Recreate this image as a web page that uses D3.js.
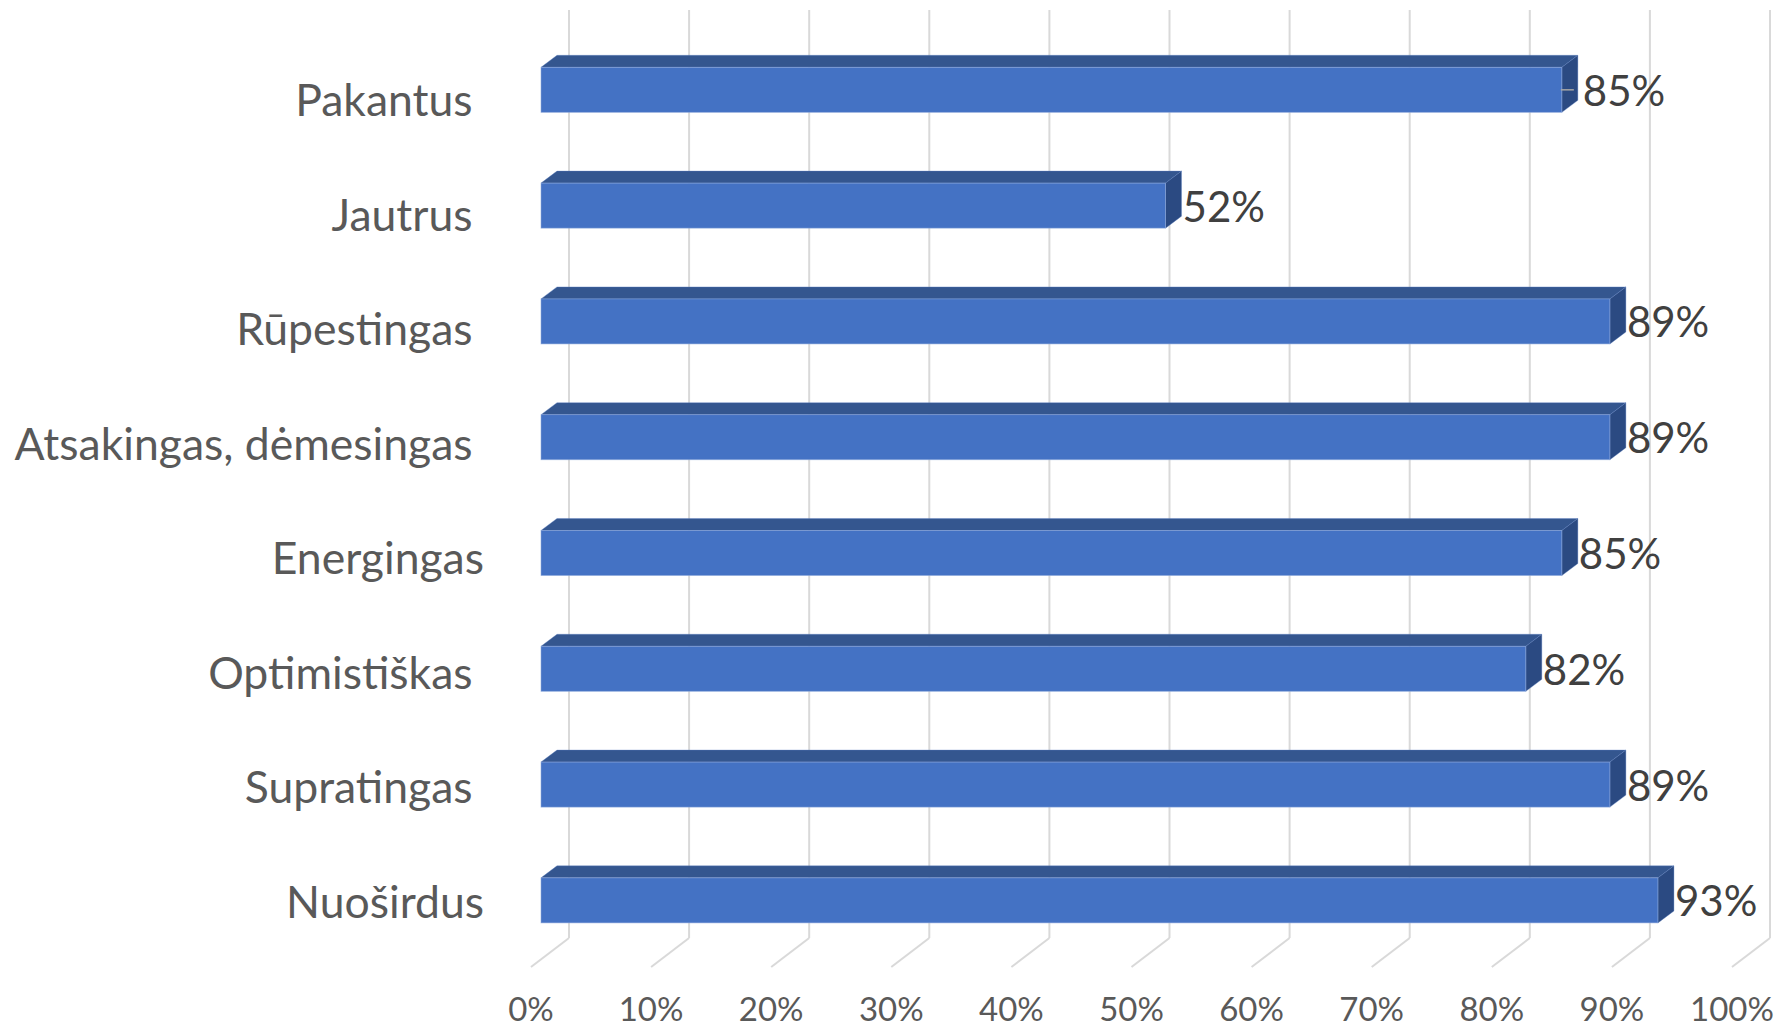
<!DOCTYPE html>
<html>
<head>
<meta charset="utf-8">
<script src="https://cdn.jsdelivr.net/npm/d3@7"></script>
<style>
  html, body { margin: 0; padding: 0; background: #ffffff; }
  svg { display: block; }
  text { font-family: Lato, "Open Sans", "Noto Sans", sans-serif; white-space: pre; }
</style>
</head>
<body>
<svg id="chart" width="1775" height="1029"></svg>
<script>
// ---- data ----
const categories = ["Pakantus ", "Jautrus ", "Rūpestingas ", "Atsakingas, dėmesingas ", "Energingas", "Optimistiškas ", "Supratingas ", "Nuoširdus"];
const values = [85, 52, 89, 89, 85, 82, 89, 93];
const tickValues = [0, 10, 20, 30, 40, 50, 60, 70, 80, 90, 100];
const tickLabels = ["0%", "10%", "20%", "30%", "40%", "50%", "60%", "70%", "80%", "90%", "100%"];

// ---- layout ----
const svg = d3.select("#chart");

// front plane of bars
const x = d3.scaleLinear().domain([0, 100]).range([541, 1742]);
// back wall (gridlines)
const xWall = d3.scaleLinear().domain([0, 100]).range([569, 1770]);
const floorDx = -38, floorDy = 29;   // wall -> floor front
const wallTop = 10, wallBottom = 938;

const y = d3.scaleBand().domain(categories).range([67.3, 922.9]).paddingInner(0.611).paddingOuter(0);
const yLabel = d3.scalePoint().domain(categories).range([116, 918]);

const depthX = 16, depthY = -12;    // bar depth offsets

const colFront = "#4472C4", colTop = "#34568F", colSide = "#2B4A82";
const gridCol = "#D9D9D9";

// gridlines on back wall + floor
const grid = svg.append("g");
grid.selectAll("line.v").data(tickValues).join("line")
  .attr("class", "v")
  .attr("x1", d => xWall(d)).attr("x2", d => xWall(d))
  .attr("y1", wallTop).attr("y2", wallBottom)
  .attr("stroke", gridCol).attr("stroke-width", 2);
grid.selectAll("line.f").data(tickValues).join("line")
  .attr("class", "f")
  .attr("x1", d => xWall(d)).attr("y1", wallBottom)
  .attr("x2", d => xWall(d) + floorDx).attr("y2", wallBottom + floorDy)
  .attr("stroke", gridCol).attr("stroke-width", 2);

// tick labels
svg.append("g").selectAll("text").data(tickValues).join("text")
  .attr("x", d => xWall(d) + floorDx)
  .attr("y", 1021)
  .attr("text-anchor", "middle")
  .attr("font-size", 33)
  .attr("fill", "#595959")
  .text((d, i) => tickLabels[i]);

// bars
const rows = categories.map((c, i) => ({ c, v: values[i], i }));
const bars = svg.append("g").selectAll("g").data(rows).join("g");

// top face
bars.append("path")
  .attr("d", d => {
    const x0 = x(0), x1 = x(d.v), yt = y(d.c);
    return `M${x0},${yt} L${x0 + depthX},${yt + depthY} L${x1 + depthX},${yt + depthY} L${x1},${yt} Z`;
  })
  .attr("fill", colTop)
  .attr("stroke", "#5b7fc0").attr("stroke-width", 0.6).attr("stroke-opacity", 0.6);

// side face
bars.append("path")
  .attr("d", d => {
    const x1 = x(d.v), yt = y(d.c), yb = yt + y.bandwidth();
    return `M${x1},${yt} L${x1 + depthX},${yt + depthY} L${x1 + depthX},${yb + depthY} L${x1},${yb} Z`;
  })
  .attr("fill", colSide)
  .attr("stroke", "#5b7fc0").attr("stroke-width", 0.6).attr("stroke-opacity", 0.6);

// front face
bars.append("rect")
  .attr("x", x(0))
  .attr("y", d => y(d.c))
  .attr("width", d => x(d.v) - x(0))
  .attr("height", y.bandwidth())
  .attr("fill", colFront)
  .attr("stroke", "#8faadc").attr("stroke-width", 0.8).attr("stroke-opacity", 0.7);

// leader line for moved label (first row)
svg.append("line")
  .attr("x1", x(values[0]) - 1).attr("x2", x(values[0]) + 12)
  .attr("y1", y(categories[0]) + y.bandwidth() / 2)
  .attr("y2", y(categories[0]) + y.bandwidth() / 2)
  .attr("stroke", "#A6A6A6").attr("stroke-width", 1.5);

// value labels
svg.append("g").selectAll("text").data(rows).join("text")
  .attr("x", d => x(d.v) + depthX + (d.i === 0 ? 5 : 1))
  .attr("y", d => y(d.c) + y.bandwidth() / 2 + 16)
  .attr("font-size", 42)
  .attr("fill", "#404040")
  .text(d => d.v + "%");

// category labels
svg.append("g").selectAll("text").data(categories).join("text")
  .attr("x", 484)
  .attr("y", d => yLabel(d))
  .attr("text-anchor", "end")
  .attr("font-size", 44.5)
  .attr("fill", "#595959")
  .text(d => d);
</script>
</body>
</html>
